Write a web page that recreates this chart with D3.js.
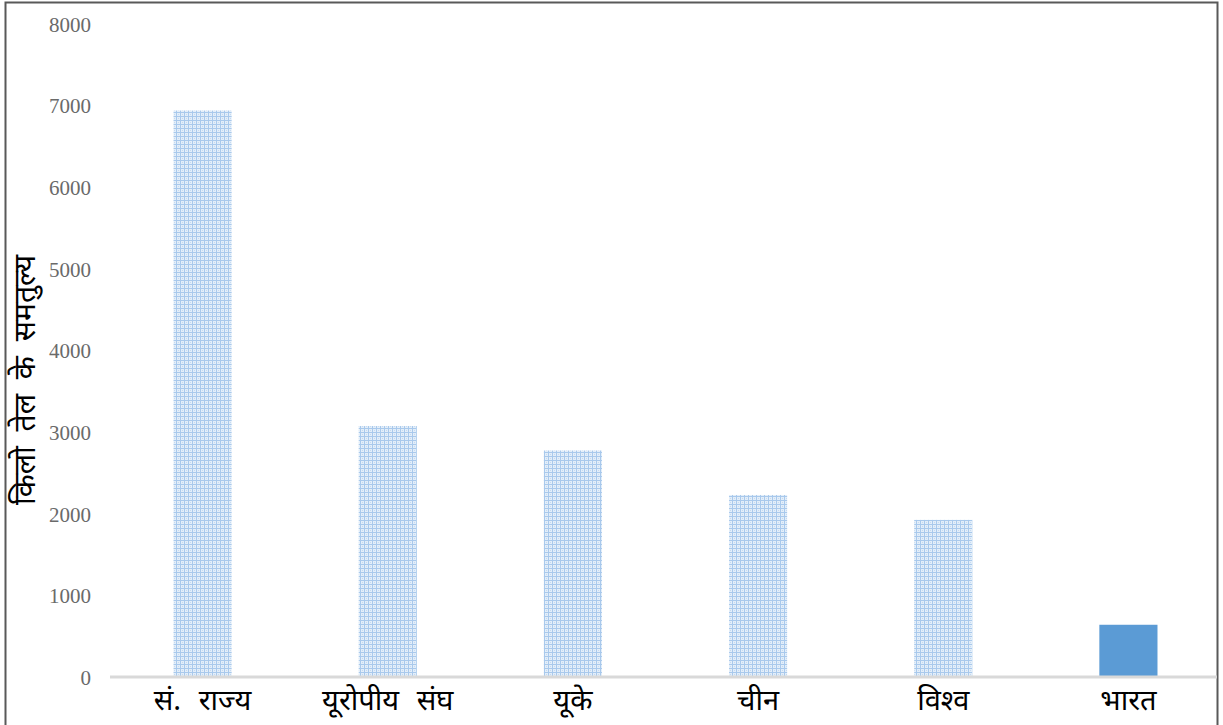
<!DOCTYPE html>
<html>
<head>
<meta charset="utf-8">
<script src="https://cdn.jsdelivr.net/npm/d3@7"></script>
<style>
  html, body { margin: 0; padding: 0; background: #fff; }
  svg { display: block; }
</style>
</head>
<body>
<svg id="chart" width="1223" height="725"></svg>
<script>
// Per-capita energy use, kilograms of oil equivalent
const categories = ["सं. राज्य", "यूरोपीय संघ", "यूके", "चीन", "विश्व", "भारत"];
const values = [6940, 3075, 2775, 2230, 1925, 640];
const highlighted = [false, false, false, false, false, true];
const yTicks = [0, 1000, 2000, 3000, 4000, 5000, 6000, 7000, 8000];
const yTitle = "किलो तेल के समतुल्य";

const W = 1223, H = 725;
const svg = d3.select("#chart");

const plot = { left: 110, right: 1221, top: 24, bottom: 677 };

const x = d3.scaleBand()
  .domain(categories)
  .range([plot.left, plot.right])
  .paddingInner(0.686)
  .paddingOuter(0.343);

const y = d3.scaleLinear()
  .domain([0, 8000])
  .range([plot.bottom, plot.top]);

// Dotted grid fill used for the comparison bars
const defs = svg.append("defs");
const pat = defs.append("pattern")
  .attr("id", "dotgrid")
  .attr("patternUnits", "userSpaceOnUse")
  .attr("width", 4).attr("height", 4);
pat.append("rect").attr("width", 4).attr("height", 4).attr("fill", "#e3eef9");
pat.append("rect").attr("x", 0).attr("y", 0).attr("width", 4).attr("height", 1).attr("fill", "#a9c9ec");
pat.append("rect").attr("x", 0).attr("y", 0).attr("width", 1).attr("height", 4).attr("fill", "#a9c9ec");
pat.append("rect").attr("x", 2).attr("y", 2).attr("width", 1).attr("height", 1).attr("fill", "#c4daf2");

// Outer frame
svg.append("rect")
  .attr("x", 5.5).attr("y", 2.5)
  .attr("width", 1212).attr("height", 740)
  .attr("fill", "none")
  .attr("stroke", "#595959")
  .attr("stroke-width", 2);

// Bars
svg.append("g").selectAll("rect")
  .data(categories)
  .join("rect")
  .attr("x", d => x(d))
  .attr("width", x.bandwidth())
  .attr("y", (d, i) => y(values[i]))
  .attr("height", (d, i) => y(0) - y(values[i]))
  .attr("fill", (d, i) => highlighted[i] ? "#5b9bd5" : "url(#dotgrid)");

// Value axis (labels only)
const yAxis = svg.append("g")
  .attr("transform", `translate(${plot.left - 19},0)`)
  .call(d3.axisLeft(y).tickValues(yTicks).tickSize(0).tickPadding(0).tickFormat(d3.format("d")));
yAxis.select(".domain").remove();
yAxis.selectAll("text")
  .attr("font-family", "'Liberation Serif', 'Times New Roman', serif")
  .attr("font-size", 21)
  .attr("fill", "#6a6a6a")
  .attr("dy", "0.35em");

const devaFont = "'Noto Sans', 'Noto Sans Devanagari', 'Lohit Devanagari', sans-serif";

// Category axis
const xAxis = svg.append("g")
  .attr("transform", `translate(0,${plot.bottom})`)
  .call(d3.axisBottom(x).tickSize(0).tickPadding(12));
xAxis.select(".domain")
  .attr("stroke", "#d9d9d9")
  .attr("stroke-width", 3)
  .attr("d", `M${plot.left},0H${plot.right - 4}`);
xAxis.selectAll("text")
  .attr("font-family", devaFont)
  .attr("font-size", 29)
  .attr("word-spacing", 10)
  .attr("fill", "#000")
  .attr("dy", "0.71em");

// Value axis title
svg.append("text")
  .attr("transform", "translate(35,380) rotate(-90)")
  .attr("text-anchor", "middle")
  .attr("font-family", devaFont)
  .attr("font-size", 30)
  .attr("word-spacing", 7)
  .attr("fill", "#000")
  .text(yTitle);
</script>
</body>
</html>
